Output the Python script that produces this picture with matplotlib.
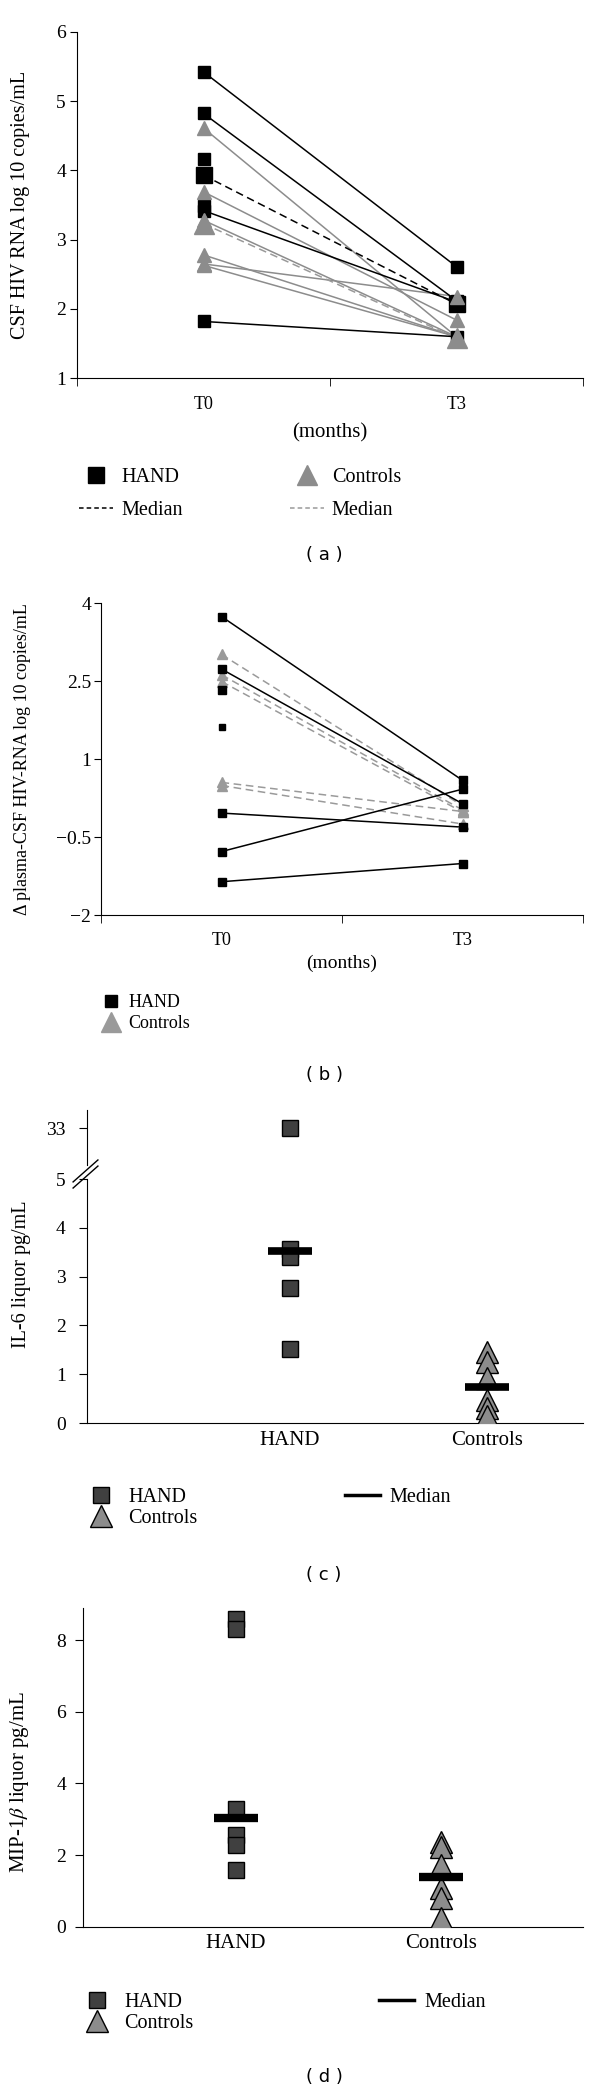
import matplotlib
matplotlib.use("Agg")
import matplotlib.pyplot as plt
from matplotlib.lines import Line2D

plt.rcParams["font.family"] = "Liberation Serif"
plt.rcParams["mathtext.fontset"] = "stix"

# ---- data ----
# (a) CSF HIV RNA, T0 -> T3
a_hand_t0 = [5.42, 4.82, 3.42, 1.82]
a_hand_t3 = [2.61, 2.12, 2.10, 1.60]
a_hand_extra_t0 = [4.16, 3.48]
a_hand_med = [3.93, 2.07]
a_ctrl_t0 = [4.61, 3.69, 3.28, 2.78, 2.65, 2.63]
a_ctrl_t3 = [1.60, 1.84, 1.60, 1.60, 2.18, 1.60]
a_ctrl_med = [3.23, 1.58]
time_labels = ["T0", "T3"]

# (b) delta plasma-CSF HIV-RNA
b_hand_t0 = [3.74, 2.73, -0.04, -0.78, -1.36]
b_hand_t3 = [0.59, 0.14, -0.31, 0.42, -1.01]
b_hand_extra_t0 = [2.33]
b_hand_small_t0 = [1.61]
b_ctrl_t0 = [3.01, 2.62, 2.49, 0.55, 0.49]
b_ctrl_t3 = [0.10, 0.02, -0.02, -0.01, -0.25]
b_ticks = [-2, -0.5, 1, 2.5, 4]
b_ticklabels = ["\u22122", "\u22120.5", "1", "2.5", "4"]

# (c) IL-6
groups = ["HAND", "Controls"]
c_hand = [33, 3.57, 3.40, 2.77, 1.51]
c_ctrl = [1.45, 1.26, 0.92, 0.48, 0.31, 0.15]
c_medians = [3.52, 0.73]

# (d) MIP-1beta
d_hand = [8.6, 8.3, 3.3, 2.56, 2.28, 1.58]
d_ctrl = [2.37, 2.23, 1.72, 1.07, 0.79, 0.23]
d_medians = [3.04, 1.40]

GREY = "#8c8c8c"
LGREY = "#9a9a9a"
DARK = "#404040"
W, H = 600, 2092

fig = plt.figure(figsize=(W / 100, H / 100), dpi=100)


def rect(left, top, right, bottom):
    return [left / W, 1 - bottom / H, (right - left) / W, (bottom - top) / H]


def style(ax):
    ax.spines["top"].set_visible(False)
    ax.spines["right"].set_visible(False)


# ---------------- (a) ----------------
ax = fig.add_axes(rect(77, 31.7, 583, 378.3))
style(ax)
x = [0, 1]
for y0, y1 in zip(a_ctrl_t0, a_ctrl_t3):
    ax.plot(x, [y0, y1], color=GREY, lw=1.1, zorder=2)
ax.plot(x, a_ctrl_med, color=LGREY, lw=1.1, ls=(0, (5, 3)), zorder=2)
for y0, y1 in zip(a_hand_t0, a_hand_t3):
    ax.plot(x, [y0, y1], color="black", lw=1.1, zorder=3)
ax.plot(x, a_hand_med, color="black", lw=1.1, ls=(0, (5, 3)), zorder=3)
ax.plot([0] * len(a_hand_t0 + a_hand_extra_t0), a_hand_t0 + a_hand_extra_t0, "s", color="black", ms=8, zorder=4)
ax.plot([1] * len(a_hand_t3), a_hand_t3, "s", color="black", ms=8, zorder=4)
ax.plot(x, a_hand_med, "s", color="black", ms=12, zorder=4)
ax.plot([0] * len(a_ctrl_t0), a_ctrl_t0, "^", color=GREY, ms=10, zorder=5)
ax.plot([1] * len(a_ctrl_t3), a_ctrl_t3, "^", color=GREY, ms=10, zorder=5)
ax.plot(x, a_ctrl_med, "^", color=GREY, ms=14, zorder=5)
ax.set_xlim(-0.5, 1.5)
ax.set_ylim(1, 6)
ax.set_yticks(range(1, 7))
ax.set_xticks(x)
ax.set_xticklabels(time_labels)
ax.set_xticks([-0.5, 0.5, 1.5], minor=True)
ax.tick_params(axis="x", which="major", length=0, pad=13, labelsize=13)
ax.tick_params(axis="x", which="minor", length=6, direction="out")
ax.tick_params(axis="y", length=5, pad=3, labelsize=14)
ax.set_ylabel("CSF HIV RNA log 10 copies/mL", fontsize=14.5)
ax.yaxis.set_label_coords(-0.092, 0.5)
ax.set_xlabel("(months)", fontsize=15, va="center")
ax.xaxis.set_label_coords(0.5, -0.158)
handles = [
    Line2D([], [], marker="s", ls="none", color="black", ms=12),
    Line2D([], [], color="black", lw=1.1, ls=(0, (3, 2))),
    Line2D([], [], marker="^", ls="none", color=GREY, ms=15),
    Line2D([], [], color=LGREY, lw=1.1, ls=(0, (3, 2))),
]
ax.legend(handles, ["HAND", "Median", "Controls", "Median"], ncol=2,
          loc="upper left", bbox_to_anchor=(79 / W, 1 - 468 / H),
          bbox_transform=fig.transFigure, frameon=False, fontsize=14.5,
          borderpad=0, borderaxespad=0, handlelength=1.7, handletextpad=0.4,
          columnspacing=5.3, labelspacing=0.7)

# ---------------- (b) ----------------
ax = fig.add_axes(rect(101, 603, 583, 915))
style(ax)
for y0, y1 in zip(b_ctrl_t0, b_ctrl_t3):
    ax.plot(x, [y0, y1], color=LGREY, lw=1.1, ls=(0, (5, 3)), zorder=2)
for y0, y1 in zip(b_hand_t0, b_hand_t3):
    ax.plot(x, [y0, y1], color="black", lw=1.1, zorder=3)
ax.plot([0] * len(b_ctrl_t0), b_ctrl_t0, "^", color=LGREY, ms=7, zorder=4)
ax.plot([1] * len(b_ctrl_t3), b_ctrl_t3, "^", color=LGREY, ms=7, zorder=4)
ax.plot([0] * len(b_hand_t0 + b_hand_extra_t0), b_hand_t0 + b_hand_extra_t0, "s", color="black", ms=6, zorder=5)
ax.plot([1] * len(b_hand_t3), b_hand_t3, "s", color="black", ms=6, zorder=5)
ax.plot([0] * len(b_hand_small_t0), b_hand_small_t0, "s", color="black", ms=4, zorder=5)
ax.set_xlim(-0.5, 1.5)
ax.set_ylim(-2, 4)
ax.set_yticks(b_ticks)
ax.set_yticklabels(b_ticklabels)
ax.set_xticks(x)
ax.set_xticklabels(time_labels)
ax.set_xticks([-0.5, 0.5, 1.5], minor=True)
ax.tick_params(axis="x", which="major", length=0, pad=12, labelsize=13)
ax.tick_params(axis="x", which="minor", length=6, direction="out")
ax.tick_params(axis="y", length=5, pad=2, labelsize=14)
ax.set_ylabel("\u0394 plasma-CSF HIV-RNA log 10 copies/mL", fontsize=13)
ax.yaxis.set_label_coords(-0.146, 0.5)
ax.set_xlabel("(months)", fontsize=14, va="center")
ax.xaxis.set_label_coords(0.5, -0.154)
handles = [
    Line2D([], [], marker="s", ls="none", color="black", ms=9),
    Line2D([], [], marker="^", ls="none", color=LGREY, ms=14),
]
ax.legend(handles, ["HAND", "Controls"], loc="upper left",
          bbox_to_anchor=(102 / W, 1 - 994 / H), bbox_transform=fig.transFigure,
          frameon=False, fontsize=13, borderpad=0, borderaxespad=0,
          handlelength=1.05, handletextpad=0.4, labelspacing=0.22)

# ---------------- (c) ----------------
xs = [1, 2]
c_xlim = (-0.033, 2.487)
axu = fig.add_axes(rect(86.5, 1110, 583, 1165))
axl = fig.add_axes(rect(86.5, 1179, 583, 1423))
for a in (axu, axl):
    style(a)
    a.set_xlim(*c_xlim)
    a.tick_params(axis="y", length=6, pad=9, labelsize=14)
    a.plot([xs[0]] * len(c_hand), c_hand, "s", color=DARK, mec="black", mew=1, ms=11, zorder=3)
    a.plot([xs[1]] * len(c_ctrl), c_ctrl, "^", color=GREY, mec="black", mew=1, ms=16, zorder=3)
axu.spines["bottom"].set_visible(False)
axu.set_xticks([])
axu.set_ylim(31.79, 33.59)
axu.set_yticks([33])
axl.set_ylim(0, 5)
axl.set_yticks(range(0, 6))
axl.hlines(c_medians, [p - 0.11 for p in xs], [p + 0.11 for p in xs], color="black", lw=5.5, zorder=4)
axl.set_xticks(xs)
axl.set_xticklabels(groups)
axl.tick_params(axis="x", length=0, pad=6, labelsize=15)
axl.set_ylabel("IL-6 liquor pg/mL", fontsize=14.5)
axl.yaxis.set_label_coords(-0.111, 0.61)
for dy in (0, -0.025):
    axl.plot([-0.027, 0.023], [0.988 + dy, 1.078 + dy], transform=axl.transAxes,
             color="black", lw=1.0, clip_on=False)
handles = [
    Line2D([], [], marker="s", ls="none", color=DARK, mec="black", ms=11),
    Line2D([], [], marker="^", ls="none", color=GREY, mec="black", ms=16),
    Line2D([], [], color="black", lw=2.5),
]
axl.legend(handles, ["HAND", "Controls", "Median"], ncol=2, loc="upper left",
           bbox_to_anchor=(83 / W, 1 - 1488 / H), bbox_transform=fig.transFigure,
           frameon=False, fontsize=14.5, borderpad=0, borderaxespad=0,
           handlelength=1.75, handletextpad=0.5, columnspacing=7.3, labelspacing=0.1)

# ---------------- (d) ----------------
ax = fig.add_axes(rect(82.7, 1608, 583, 1926.7))
style(ax)
ax.plot([xs[0]] * len(d_hand), d_hand, "s", color=DARK, mec="black", mew=1, ms=12, zorder=3)
ax.plot([xs[1]] * len(d_ctrl), d_ctrl, "^", color=GREY, mec="black", mew=1, ms=16, zorder=3)
ax.hlines(d_medians, [p - 0.107 for p in xs], [p + 0.107 for p in xs], color="black", lw=6, zorder=4)
ax.set_xlim(0.252, 2.693)
ax.set_ylim(0, 8.9)
ax.set_yticks([0, 2, 4, 6, 8])
ax.set_xticks(xs)
ax.set_xticklabels(groups)
ax.tick_params(axis="x", length=0, pad=5, labelsize=15)
ax.tick_params(axis="y", length=6, pad=6, labelsize=14)
ax.set_ylabel("MIP-1$\\beta$ liquor pg/mL", fontsize=15)
ax.yaxis.set_label_coords(-0.103, 0.454)
handles = [
    Line2D([], [], marker="s", ls="none", color=DARK, mec="black", ms=11),
    Line2D([], [], marker="^", ls="none", color=GREY, mec="black", ms=16),
    Line2D([], [], color="black", lw=2.5),
]
ax.legend(handles, ["HAND", "Controls", "Median"], ncol=2, loc="upper left",
          bbox_to_anchor=(79 / W, 1 - 1993 / H), bbox_transform=fig.transFigure,
          frameon=False, fontsize=14.5, borderpad=0, borderaxespad=0,
          handlelength=1.75, handletextpad=0.5, columnspacing=9.2, labelspacing=0.1)

# panel letters
for letter, ypx in zip(["a", "b", "c", "d"], [555, 1075, 1575, 2077]):
    fig.text(324 / W, 1 - ypx / H, "( %s )" % letter, family="DejaVu Sans",
             fontsize=13, ha="center", va="center")

fig.savefig("out.png", dpi=100)
